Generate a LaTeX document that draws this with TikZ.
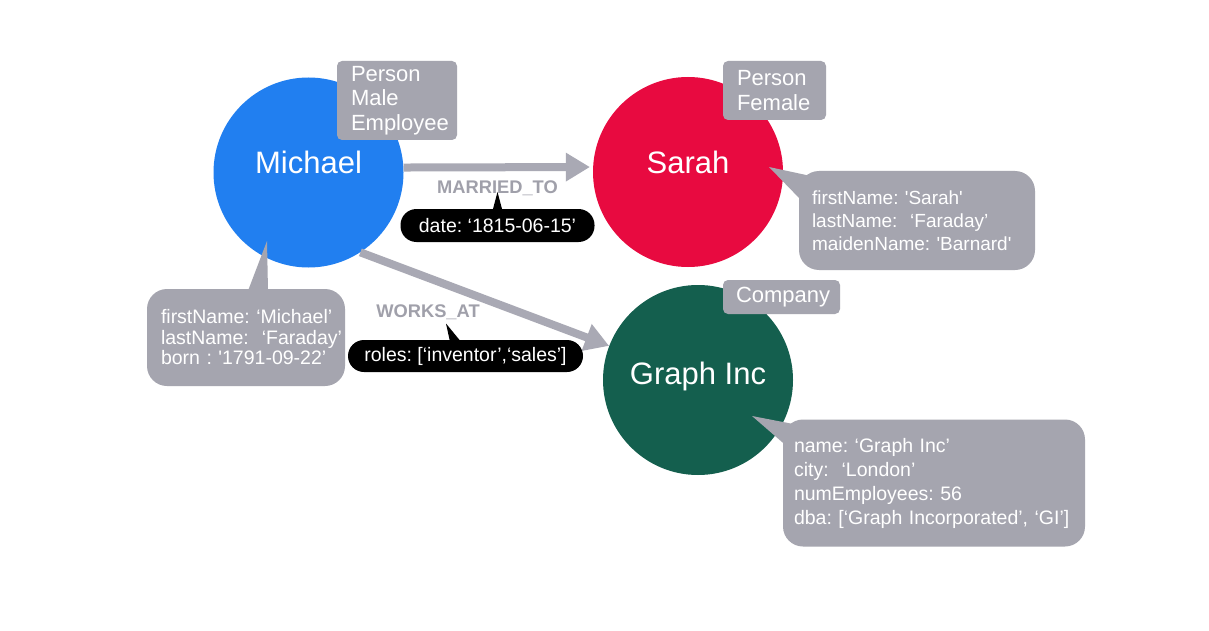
\documentclass[tikz,border=0pt]{standalone}
\usepackage{fontspec}
\setmainfont{Liberation Sans}
\usetikzlibrary{arrows.meta,calc}
\frenchspacing
\definecolor{mblue}{HTML}{217FF0}
\definecolor{sred}{HTML}{E80A40}
\definecolor{ggreen}{HTML}{145F4E}
\definecolor{lgray}{HTML}{A5A5AF}
\definecolor{agray}{HTML}{A9A9B4}
\definecolor{tgray}{HTML}{A0A0AA}
\begin{document}
\begin{tikzpicture}[x=1pt,y=-1pt,
  entity/.style={circle, minimum size=190pt, inner sep=0pt, text=white,
    text height=22pt, text depth=0pt, font=\fontsize{31}{31}\selectfont},
  tagbox/.style={fill=lgray, rounded corners=5pt, text=white, inner sep=0pt,
    align=left, font=\fontsize{22}{24.5}\selectfont},
  propbox/.style={fill=lgray, rounded corners=20pt, text=white, inner sep=0pt,
    align=left},
  relbox/.style={fill=black, rounded corners=16pt, text=white, inner sep=0pt,
    font=\fontsize{19.5}{19.5}\selectfont},
  reltext/.style={text=tgray, inner sep=0pt, font=\fontsize{18.3}{18.3}\selectfont\bfseries},
  rel/.style={draw=agray, line width=8pt, -{Triangle[length=24pt,width=27pt]}}]
\useasboundingbox (0,0) rectangle (1209,631);
\fill[white] (0,0) rectangle (1209,631);

% entities
\node[entity, fill=mblue] (michael) at (308.5,172.5) {\raisebox{9.5pt}{Michael}};
\node[entity, fill=sred] (sarah) at (688,172) {\raisebox{9.5pt}{Sarah}};
\node[entity, fill=ggreen] (graph) at (698,380) {\raisebox{7pt}{Graph Inc}};

% tags
\node[tagbox, text width=120pt, minimum height=79pt] (mtag) at (397,100.5)
  {\leftskip=14pt Person\\Male\\Employee\par};
\node[tagbox, text width=103pt, minimum height=59pt] (stag) at (774.5,90.5)
  {\leftskip=14pt Person\\Female\par};
\node[tagbox, text width=117pt, minimum height=34pt] (gtag) at (781.5,297)
  {\leftskip=13pt Company\par};

% property boxes
\node[propbox, text width=198pt, minimum height=97pt,
  font=\fontsize{19.5}{20.5}\selectfont] (mprops) at (246,337.5)
  {\leftskip=14pt firstName: ‘Michael’\\lastName:\ \ ‘Faraday’\\born : \textquotesingle 1791-09-22’\par};
\node[propbox, text width=236pt, minimum height=99pt,
  font=\fontsize{19}{23}\selectfont] (sprops) at (917,220.5)
  {\leftskip=13pt firstName: \textquotesingle Sarah\textquotesingle\\lastName:\ \ ‘Faraday’\\maidenName: \textquotesingle Barnard\textquotesingle\par};
\node[propbox, text width=302pt, minimum height=127pt,
  font=\fontsize{19.5}{24}\selectfont] (gprops) at (934,483)
  {\leftskip=11pt name: ‘Graph Inc’\\city:\ \ ‘London’\\numEmployees: 56\\dba: [‘Graph Incorporated’, ‘GI’]\par};

% property pointers
\fill[lgray] ($(michael.center)+(-41.5,68.5)$) -- ($(mprops.north)+(22,2)$) -- ($(mprops.north)+(2,2)$) -- cycle;
\fill[lgray] ($(sarah.center)+(81,-5)$) -- ($(sprops.north west)+(11,5)$) -- ($(sprops.north west)+(2,29)$) -- cycle;
\fill[lgray] ($(graph.center)+(54,36)$) -- ($(gprops.north west)+(12,5)$) -- ($(gprops.north west)+(3,26)$) -- cycle;

% relationships
\draw[rel, shorten >=3pt] (michael.3.3) -- (sarah.177.7);
\draw[rel] (michael.-57) -- (graph.159);

\node[reltext] (mlabel) at (497.5,188.5) {MARRIED\_TO};
\node[reltext] (wlabel) at (428,312.5) {WORKS\_AT};

\node[relbox, minimum width=194pt, minimum height=33pt] (datebox) at (497.5,225.5)
  {date: ‘1815-06-15’};
\node[relbox, minimum width=235pt, minimum height=32pt] (rolesbox) at (465.5,356)
  {roles: [‘inventor’,‘sales’]};

\fill[black] ($(mlabel.center)+(0,3.5)$) -- ($(datebox.north)+(5,2)$) -- ($(datebox.north)+(-5,2)$) -- cycle;
\fill[black] ($(wlabel.center)+(18,11)$) -- ($(rolesbox.north)+(-4.5,2)$) -- ($(rolesbox.north)+(-15.5,2)$) -- cycle;
\end{tikzpicture}
\end{document}
